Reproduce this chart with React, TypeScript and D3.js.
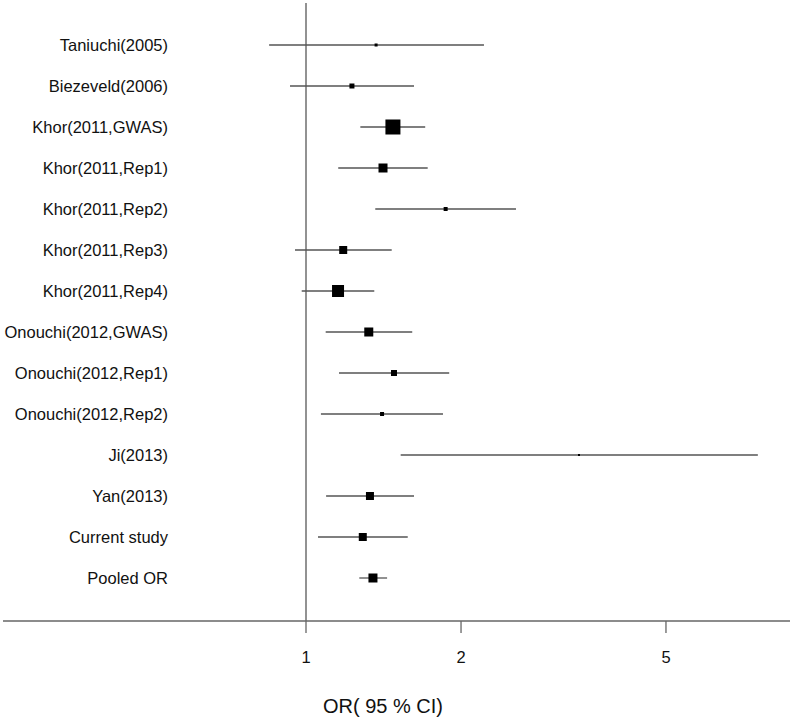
import React from "react";
import * as d3 from "d3";

const studies = [
  "Taniuchi(2005)",
  "Biezeveld(2006)",
  "Khor(2011,GWAS)",
  "Khor(2011,Rep1)",
  "Khor(2011,Rep2)",
  "Khor(2011,Rep3)",
  "Khor(2011,Rep4)",
  "Onouchi(2012,GWAS)",
  "Onouchi(2012,Rep1)",
  "Onouchi(2012,Rep2)",
  "Ji(2013)",
  "Yan(2013)",
  "Current study",
  "Pooled OR",
];
const orValues = [1.368, 1.228, 1.475, 1.411, 1.867, 1.181, 1.154, 1.324, 1.482, 1.405, 3.389, 1.331, 1.289, 1.349];
const lowerCI = [0.848, 0.931, 1.275, 1.155, 1.363, 0.952, 0.981, 1.092, 1.159, 1.069, 1.527, 1.094, 1.055, 1.269];
const upperCI = [2.216, 1.621, 1.704, 1.723, 2.557, 1.467, 1.357, 1.608, 1.897, 1.845, 7.54, 1.621, 1.576, 1.437];
const weights = [3, 5, 15, 9, 4, 8, 12, 9, 6, 4, 2, 8, 8, 9];
const tickValues = [1, 2, 5];
const axisTitle = "OR( 95 % CI)";

const W = 790;
const H = 720;
const FONT = "'Liberation Sans', Arial, sans-serif";

export default function App() {
  const x = d3.scaleLog().domain([1, 10]).range([306, 306 + 515]);
  const y = d3
    .scalePoint<string>()
    .domain(studies)
    .range([45, 578]);
  const size = d3.scaleLinear().domain([0, 15]).range([0, 15]);
  const axisY = 621;

  return (
    <svg
      width={W}
      height={H}
      style={{ position: "absolute", left: 0, top: 0, background: "#fff" }}
    >
      {/* reference line at OR = 1 */}
      <line x1={x(1)} x2={x(1)} y1={3} y2={axisY} stroke="#777" strokeWidth={1.6} />
      {/* x axis */}
      <line x1={3} x2={W} y1={axisY} y2={axisY} stroke="#666" strokeWidth={1.3} />
      {tickValues.map((t) => (
        <g key={t}>
          <line x1={x(t)} x2={x(t)} y1={axisY} y2={axisY + 12} stroke="#666" strokeWidth={1.3} />
          <text
            x={x(t)}
            y={663}
            textAnchor="middle"
            fontFamily={FONT}
            fontSize={16.5}
            fill="#111"
          >
            {t}
          </text>
        </g>
      ))}
      <text x={383} y={712.5} textAnchor="middle" fontFamily={FONT} fontSize={20} fill="#111">
        {axisTitle}
      </text>
      {studies.map((s, i) => {
        const cy = y(s) as number;
        const sz = size(weights[i]);
        return (
          <g key={s}>
            <text
              x={168}
              y={cy + 6}
              textAnchor="end"
              fontFamily={FONT}
              fontSize={16.5}
              fill="#111"
            >
              {s}
            </text>
            <line
              x1={x(lowerCI[i])}
              x2={x(upperCI[i])}
              y1={cy}
              y2={cy}
              stroke="#555"
              strokeWidth={1.3}
            />
            <rect
              x={x(orValues[i]) - sz / 2}
              y={cy - sz / 2}
              width={sz}
              height={sz}
              fill="#000"
            />
          </g>
        );
      })}
    </svg>
  );
}
